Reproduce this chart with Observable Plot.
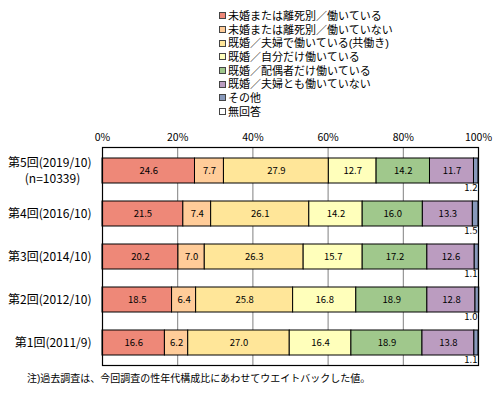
<!DOCTYPE html>
<html><head><meta charset="utf-8">
<script src="https://cdn.jsdelivr.net/npm/d3@7"></script>
<script src="https://cdn.jsdelivr.net/npm/@observablehq/plot@0.6"></script>
<style>
body{margin:0;background:#fff;font-family:"Noto Sans CJK JP",sans-serif;}
#wrap{position:relative;width:499px;height:393px;overflow:hidden;}
#legend{position:absolute;left:219px;top:9px;font-size:11px;color:#000;font-family:"Liberation Sans","Noto Sans CJK JP",sans-serif;}
.item{display:flex;align-items:center;white-space:nowrap;height:13.7px;line-height:12px;}
.sw{width:5px;height:5px;border:1px solid #444;margin-right:2px;flex:none;}
#note{position:absolute;left:27px;top:373px;font-size:10px;line-height:12px;white-space:nowrap;color:#000;font-family:"Liberation Sans","Noto Sans CJK JP",sans-serif;}
</style></head><body>
<div id="wrap"><div id="chart"></div><div id="legend"></div><div id="note"></div></div>
<script>
const rounds = ["第5回(2019/10)","第4回(2016/10)","第3回(2014/10)","第2回(2012/10)","第1回(2011/9)"];
const sampleNotes = ["(n=10339)", "", "", "", ""];
const categories = [
  "未婚または離死別／働いている",
  "未婚または離死別／働いていない",
  "既婚／夫婦で働いている(共働き)",
  "既婚／自分だけ働いている",
  "既婚／配偶者だけ働いている",
  "既婚／夫婦とも働いていない",
  "その他",
  "無回答"
];
const colors = ["#EE8878","#FFCC99","#FFE699","#FFFFBB","#A0C88C","#BB9CC0","#8899BB","#FFFFFF"];
// values per category, in the order of rounds
const singleWorking   = [24.6, 21.5, 20.2, 18.5, 16.6];
const singleNotWorking= [7.7, 7.4, 7.0, 6.4, 6.2];
const bothWorking     = [27.9, 26.1, 26.3, 25.8, 27.0];
const selfOnly        = [12.7, 14.2, 15.7, 16.8, 16.4];
const spouseOnly      = [14.2, 16.0, 17.2, 18.9, 18.9];
const neitherWorking  = [11.7, 13.3, 12.6, 12.8, 13.8];
const other           = [1.2, 1.5, 1.1, 1.0, 1.1];
const noAnswer        = [0, 0, 0, 0, 0];
const xTicks = [0, 20, 40, 60, 80, 100];
const gridTicks = [20, 40, 60, 80];
const noteText = "注)過去調査は、今回調査の性年代構成比にあわせてウエイトバックした値。";

const series = [singleWorking, singleNotWorking, bothWorking, selfOnly, spouseOnly, neitherWorking, other, noAnswer];
const data = [];
rounds.forEach((r, i) => series.forEach((s, j) => data.push({round: r, cat: categories[j], ci: j, value: s[i]})));
const labelRows = rounds.map((r, i) => ({round: r, note: sampleNotes[i]}));

const font = '"Noto Sans CJK JP", sans-serif';
const svg = Plot.plot({
  width: 499, height: 393,
  marginLeft: 102, marginRight: 21, marginTop: 147, marginBottom: 28,
  style: {fontFamily: font, fontSize: "10.5px", background: "white", color: "black", overflow: "visible"},
  x: {domain: [0, 100], axis: "top", ticks: xTicks, tickFormat: d => d + "%", tickSize: 0, tickPadding: 7, label: null},
  y: {domain: rounds, paddingInner: 0.42, paddingOuter: 0.21, axis: null},
  color: {domain: categories, range: colors},
  marks: [
    Plot.ruleX(gridTicks, {stroke: "#808080", strokeWidth: 1}),
    Plot.barX(data, {x: "value", y: "round", fill: "cat", stroke: "black", strokeWidth: 1, order: categories}),
    Plot.text(data, Plot.stackX({x: "value", y: "round", z: "cat", order: categories,
      text: d => d.ci < 6 ? d.value.toFixed(1) : "", fontSize: 9.5, fill: "black", ariaLabel: "seglabels"})),
    Plot.text(data.filter(d => d.ci === 6), {y: "round", text: d => d.value.toFixed(1), frameAnchor: "right",
      dx: -1, dy: 17, textAnchor: "end", fontSize: 9.5, fill: "black"}),
    Plot.text(labelRows.filter(d => !d.note), {y: "round", text: "round", frameAnchor: "left", dx: -11, textAnchor: "end", fontSize: 12, fill: "black"}),
    Plot.text(labelRows.filter(d => d.note), {y: "round", text: "round", frameAnchor: "left", dx: -11, dy: -8, textAnchor: "end", fontSize: 12, fill: "black"}),
    Plot.text(labelRows.filter(d => d.note), {y: "round", text: "note", frameAnchor: "left", dx: -50, dy: 8, textAnchor: "middle", fontSize: 12, fill: "black"}),
    Plot.frame({stroke: "black", strokeWidth: 1.2})
  ]
});
document.getElementById("chart").appendChild(svg);

// white boxes behind segment value labels
svg.querySelectorAll('g[aria-label="seglabels"] text').forEach(t => {
  if (!t.textContent) return;
  const bb = t.getBBox();
  const r = document.createElementNS("http://www.w3.org/2000/svg", "rect");
  const cy = bb.y + bb.height / 2;
  r.setAttribute("x", bb.x - 4);
  r.setAttribute("width", bb.width + 8);
  r.setAttribute("y", cy - 8);
  r.setAttribute("height", 16);
  r.setAttribute("fill", "white");
  if (t.getAttribute("transform")) r.setAttribute("transform", t.getAttribute("transform"));
  t.parentNode.insertBefore(r, t);
});

const legend = document.getElementById("legend");
categories.forEach((c, i) => {
  const it = document.createElement("div");
  it.className = "item";
  const sw = document.createElement("span");
  sw.className = "sw";
  sw.style.background = colors[i];
  const tx = document.createElement("span");
  tx.textContent = c;
  it.appendChild(sw); it.appendChild(tx);
  legend.appendChild(it);
});
document.getElementById("note").textContent = noteText;
</script>
</body></html>
